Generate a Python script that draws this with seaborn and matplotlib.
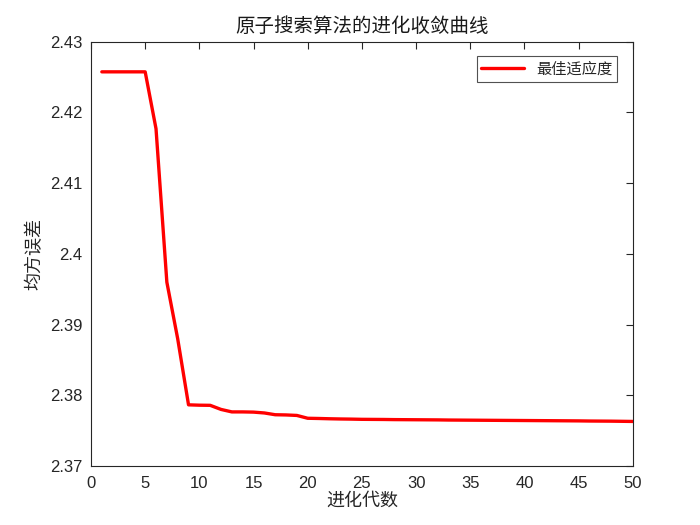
import matplotlib
matplotlib.use("Agg")
import matplotlib.pyplot as plt
import numpy as np
import pandas as pd
import seaborn as sns

generations = list(range(1, 51))
best_fitness = [
    2.42575, 2.42575, 2.42575, 2.42575, 2.42575,
    2.41770, 2.39600, 2.38800, 2.37865, 2.37860,
    2.37858, 2.37800, 2.37765, 2.37765, 2.37762,
    2.37750, 2.37725, 2.37722, 2.37715, 2.37675,
    2.37672, 2.37668, 2.37665, 2.37663, 2.37660,
    2.37659, 2.37658, 2.37656, 2.37655, 2.37654,
    2.37653, 2.37652, 2.37650, 2.37649, 2.37648,
    2.37647, 2.37646, 2.37645, 2.37644, 2.37643,
    2.37642, 2.37641, 2.37640, 2.37639, 2.37638,
    2.37636, 2.37635, 2.37634, 2.37632, 2.37630,
]

df = pd.DataFrame({"gen": generations, "fit": best_fitness})

sns.set_style("white")
plt.rcParams['font.family'] = ['Liberation Sans', 'Noto Sans CJK SC', 'DejaVu Sans']
cjk = ['Noto Sans CJK SC', 'DejaVu Sans']

fig = plt.figure(figsize=(7, 5.25), dpi=100)
ax = fig.add_axes([0.13, 0.1124, 0.774, 0.808])

sns.lineplot(data=df, x="gen", y="fit", color="#ff0000", linewidth=2.4,
             label="最佳适应度", ax=ax)

ax.set_xlim(0, 50)
ax.set_ylim(2.37, 2.43)
ax.set_xticks(np.arange(0, 51, 5))
ax.set_yticks([2.37, 2.38, 2.39, 2.40, 2.41, 2.42, 2.43])
ax.set_yticklabels(["2.37", "2.38", "2.39", "2.4", "2.41", "2.42", "2.43"])
ax.tick_params(direction="in", top=True, right=True, length=5, width=0.8,
               labelsize=12, colors="#262626")
ax.tick_params(axis="x", pad=7)
ax.tick_params(axis="y", pad=6)
for s in ax.spines.values():
    s.set_color("#262626")
    s.set_linewidth(0.8)

ax.set_title("原子搜索算法的进化收敛曲线", family=cjk, fontsize=14, color="#1a1a1a", pad=7)
ax.set_xlabel("进化代数", family=cjk, fontsize=13, color="#262626", labelpad=1)
ax.set_ylabel("均方误差", family=cjk, fontsize=13, color="#262626", labelpad=5)

leg = ax.legend(loc="upper right", prop={"family": cjk, "size": 11},
                frameon=True, fancybox=False, edgecolor="#262626",
                handlelength=2.8, borderpad=0.3, bbox_to_anchor=(0.985, 0.985))
leg.get_frame().set_linewidth(0.8)

fig.savefig("out.png", dpi=100)
